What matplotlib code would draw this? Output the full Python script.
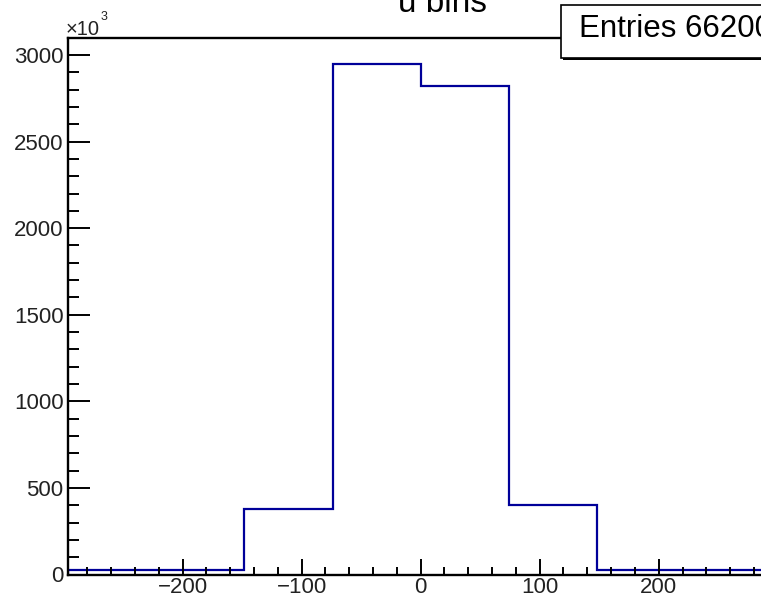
import matplotlib
matplotlib.use('Agg')
import matplotlib.pyplot as plt
from matplotlib.patches import Rectangle
from matplotlib.ticker import MultipleLocator

# ---- data (bin contents in units of 10^3) ----
bin_edges = [-296, -222, -148, -74, 0, 74, 148, 222, 296]
counts_k = [28, 28, 381, 2948, 2821, 404, 28, 28]
xticks = [-200, -100, 0, 100, 200]
yticks = [0, 500, 1000, 1500, 2000, 2500, 3000]
title = "u bins"
stats_label = "Entries 6620000"

plt.rcParams['font.family'] = ['Liberation Sans', 'DejaVu Sans']

W, H = 761, 599
fig = plt.figure(figsize=(W / 100, H / 100), dpi=100)
left_px, right_px, top_px, bot_px = 68.3, 773.0, 37.7, 574.5
ax = fig.add_axes([left_px / W, (H - bot_px) / H,
                   (right_px - left_px) / W, (bot_px - top_px) / H])

ax.stairs(counts_k, bin_edges, color='#000099', linewidth=1.6, baseline=0)
ax.set_xlim(-296, 296)
ax.set_ylim(0, 3100)

ax.set_xticks(xticks)
ax.set_yticks(yticks)
ax.xaxis.set_minor_locator(MultipleLocator(20))
ax.yaxis.set_minor_locator(MultipleLocator(100))

ax.tick_params(axis='x', which='major', direction='in', length=11.3, width=1.4,
               labelsize=16, pad=2.0, labelcolor='#222222')
ax.tick_params(axis='x', which='minor', direction='in', length=6.0, width=1.4)
ax.tick_params(axis='y', which='major', direction='in', length=15.6, width=1.4,
               labelsize=16, pad=3.5, labelcolor='#222222')
ax.tick_params(axis='y', which='minor', direction='in', length=7.7, width=1.4)

for s in ['left', 'bottom', 'top']:
    ax.spines[s].set_linewidth(1.7)
ax.spines['right'].set_visible(False)

# x10^3 multiplier label
fig.text(66 / W, (H - 35) / H, "\u00d710", fontsize=14.5, ha='left', va='baseline',
         color='#222222')
fig.text(100.5 / W, (H - 20.5) / H, "3", fontsize=9, ha='left', va='baseline',
         color='#222222')

# title (partly cut off at the top)
fig.text(442 / W, (H - 12) / H, title, fontsize=24, ha='center', va='baseline')

# stats box with shadow
shadow = Rectangle(((561 + 2) / W, (H - 58 - 2) / H), (800 - 561) / W, (58 - 5) / H,
                   transform=fig.transFigure, facecolor='black', edgecolor='black',
                   linewidth=0, zorder=9, clip_on=False)
box = Rectangle((561 / W, (H - 58) / H), (800 - 561) / W, (58 - 5) / H,
                transform=fig.transFigure, facecolor='white', edgecolor='black',
                linewidth=1.2, zorder=10, clip_on=False)
fig.add_artist(shadow)
fig.add_artist(box)
fig.text(579 / W, (H - 37) / H, stats_label, fontsize=22.5, ha='left', va='baseline',
         zorder=11)

fig.savefig('out.png', dpi=100)
